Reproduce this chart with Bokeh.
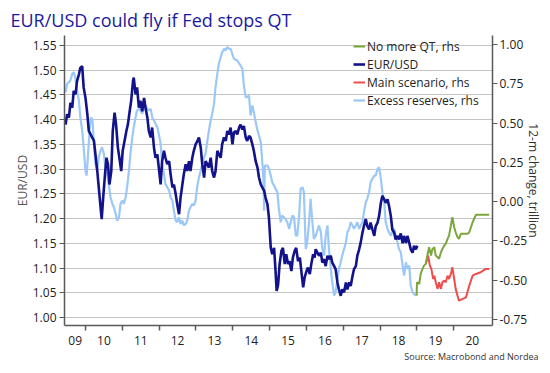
from bokeh.plotting import figure
from bokeh.models import (Range1d, LinearAxis, FixedTicker, NumeralTickFormatter,
                          CustomJSTickFormatter, Title, Legend, LegendItem)
from bokeh.embed import file_html
from bokeh.resources import INLINE

FONT = "Open Sans"

# ---------------- data ----------------
eurusd_t = [2009.46, 2009.50, 2009.55, 2009.59, 2009.64, 2009.68, 2009.73, 2009.77, 2009.82, 2009.86,
            2009.91, 2009.95, 2010.00, 2010.05, 2010.09, 2010.14, 2010.18, 2010.23, 2010.27, 2010.32,
            2010.36, 2010.41, 2010.44, 2010.48, 2010.53, 2010.57, 2010.61, 2010.65, 2010.70, 2010.74,
            2010.79, 2010.83, 2010.88, 2010.92, 2010.97, 2011.01, 2011.06, 2011.11, 2011.15, 2011.20,
            2011.24, 2011.29, 2011.31, 2011.36, 2011.40, 2011.45, 2011.49, 2011.54, 2011.59, 2011.63,
            2011.68, 2011.72, 2011.77, 2011.81, 2011.86, 2011.90, 2011.95, 2011.99, 2012.04, 2012.08,
            2012.13, 2012.17, 2012.22, 2012.27, 2012.31, 2012.36, 2012.40, 2012.45, 2012.49, 2012.54,
            2012.58, 2012.63, 2012.67, 2012.72, 2012.76, 2012.81, 2012.85, 2012.90, 2012.94, 2012.99,
            2013.04, 2013.08, 2013.13, 2013.17, 2013.22, 2013.26, 2013.31, 2013.35, 2013.40, 2013.44,
            2013.49, 2013.53, 2013.58, 2013.62, 2013.67, 2013.71, 2013.76, 2013.81, 2013.85, 2013.90,
            2013.94, 2013.99, 2014.03, 2014.08, 2014.12, 2014.17, 2014.21, 2014.26, 2014.30, 2014.35,
            2014.39, 2014.44, 2014.48, 2014.53, 2014.57, 2014.62, 2014.67, 2014.71, 2014.76, 2014.80,
            2014.85, 2014.89, 2014.94, 2014.98, 2015.03, 2015.07, 2015.12, 2015.16, 2015.19, 2015.23,
            2015.27, 2015.32, 2015.36, 2015.41, 2015.45, 2015.50, 2015.54, 2015.59, 2015.63, 2015.68,
            2015.72, 2015.77, 2015.82, 2015.86, 2015.91, 2015.95, 2016.00, 2016.04, 2016.09, 2016.13,
            2016.18, 2016.22, 2016.25, 2016.34, 2016.39, 2016.43, 2016.48, 2016.52, 2016.57, 2016.61,
            2016.66, 2016.70, 2016.75, 2016.79, 2016.84, 2016.88, 2016.93, 2016.97, 2017.02, 2017.07,
            2017.11, 2017.16, 2017.20, 2017.25, 2017.29, 2017.34, 2017.38, 2017.43, 2017.47, 2017.52,
            2017.56, 2017.61, 2017.65, 2017.70, 2017.74, 2017.79, 2017.84, 2017.88, 2017.93, 2017.97,
            2018.02, 2018.06, 2018.11, 2018.15, 2018.20, 2018.24, 2018.29, 2018.33, 2018.38, 2018.42,
            2018.47, 2018.51, 2018.56, 2018.61, 2018.65, 2018.70, 2018.74, 2018.79, 2018.83, 2018.88,
            2018.92, 2018.97, 2019.01]
eurusd = [1.390, 1.411, 1.404, 1.434, 1.424, 1.458, 1.451, 1.478, 1.491, 1.505,
          1.508, 1.465, 1.444, 1.411, 1.377, 1.370, 1.364, 1.357, 1.330, 1.296,
          1.263, 1.222, 1.199, 1.242, 1.290, 1.323, 1.310, 1.269, 1.296, 1.377,
          1.414, 1.390, 1.343, 1.323, 1.296, 1.337, 1.357, 1.377, 1.390, 1.417,
          1.438, 1.478, 1.485, 1.451, 1.465, 1.424, 1.438, 1.417, 1.444, 1.424,
          1.404, 1.377, 1.364, 1.384, 1.343, 1.323, 1.330, 1.303, 1.269, 1.316,
          1.337, 1.323, 1.310, 1.316, 1.290, 1.263, 1.269, 1.249, 1.229, 1.209,
          1.242, 1.269, 1.290, 1.310, 1.296, 1.316, 1.296, 1.323, 1.337, 1.350,
          1.357, 1.364, 1.343, 1.310, 1.283, 1.316, 1.310, 1.303, 1.323, 1.296,
          1.283, 1.296, 1.337, 1.330, 1.323, 1.350, 1.364, 1.357, 1.377, 1.370,
          1.384, 1.350, 1.374, 1.377, 1.370, 1.384, 1.390, 1.380, 1.387, 1.364,
          1.357, 1.367, 1.364, 1.350, 1.337, 1.316, 1.303, 1.283, 1.269, 1.263,
          1.256, 1.242, 1.229, 1.202, 1.141, 1.128, 1.141, 1.094, 1.054, 1.067,
          1.108, 1.135, 1.141, 1.108, 1.128, 1.108, 1.114, 1.094, 1.121, 1.135,
          1.141, 1.114, 1.121, 1.094, 1.061, 1.081, 1.094, 1.101, 1.088, 1.108,
          1.128, 1.121, 1.138, 1.125, 1.131, 1.111, 1.118, 1.104, 1.125, 1.118,
          1.125, 1.111, 1.104, 1.098, 1.071, 1.057, 1.044, 1.057, 1.051, 1.071,
          1.057, 1.071, 1.064, 1.084, 1.098, 1.104, 1.125, 1.138, 1.151, 1.172,
          1.185, 1.199, 1.185, 1.178, 1.192, 1.178, 1.165, 1.185, 1.192, 1.205,
          1.232, 1.246, 1.239, 1.232, 1.239, 1.226, 1.205, 1.178, 1.172, 1.158,
          1.165, 1.158, 1.170, 1.150, 1.165, 1.151, 1.165, 1.151, 1.138, 1.131,
          1.145, 1.138, 1.145]

reserves_t = [2009.46, 2009.50, 2009.55, 2009.59, 2009.64, 2009.68, 2009.73, 2009.77, 2009.82, 2009.86,
              2009.91, 2009.95, 2010.00, 2010.03, 2010.06, 2010.11, 2010.15, 2010.19, 2010.23, 2010.27,
              2010.32, 2010.36, 2010.41, 2010.45, 2010.50, 2010.54, 2010.59, 2010.63, 2010.68, 2010.73,
              2010.77, 2010.82, 2010.86, 2010.91, 2010.95, 2011.00, 2011.04, 2011.09, 2011.13, 2011.18,
              2011.22, 2011.27, 2011.31, 2011.36, 2011.40, 2011.45, 2011.49, 2011.54, 2011.59, 2011.63,
              2011.68, 2011.72, 2011.77, 2011.81, 2011.86, 2011.90, 2011.95, 2011.99, 2012.04, 2012.08,
              2012.13, 2012.17, 2012.22, 2012.27, 2012.31, 2012.36, 2012.40, 2012.45, 2012.49, 2012.54,
              2012.58, 2012.63, 2012.67, 2012.72, 2012.76, 2012.81, 2012.85, 2012.90, 2012.94, 2012.99,
              2013.03, 2013.08, 2013.13, 2013.17, 2013.22, 2013.26, 2013.31, 2013.35, 2013.40, 2013.44,
              2013.49, 2013.53, 2013.58, 2013.62, 2013.67, 2013.71, 2013.76, 2013.80, 2013.85, 2013.90,
              2013.94, 2014.03, 2014.12, 2014.21, 2014.26, 2014.30, 2014.35, 2014.39, 2014.44, 2014.48,
              2014.53, 2014.57, 2014.62, 2014.66, 2014.71, 2014.76, 2014.80, 2014.83, 2014.85, 2014.87,
              2014.94, 2014.98, 2015.03, 2015.07, 2015.12, 2015.16, 2015.21, 2015.25, 2015.30, 2015.34,
              2015.39, 2015.43, 2015.48, 2015.53, 2015.57, 2015.62, 2015.66, 2015.71, 2015.75, 2015.80,
              2015.84, 2015.89, 2015.93, 2015.98, 2016.02, 2016.07, 2016.11, 2016.16, 2016.20, 2016.25,
              2016.34, 2016.39, 2016.43, 2016.48, 2016.52, 2016.57, 2016.61, 2016.66, 2016.70, 2016.75,
              2016.79, 2016.84, 2016.88, 2016.93, 2016.97, 2017.02, 2017.07, 2017.11, 2017.16, 2017.20,
              2017.25, 2017.29, 2017.34, 2017.38, 2017.43, 2017.47, 2017.52, 2017.56, 2017.61, 2017.65,
              2017.70, 2017.74, 2017.79, 2017.84, 2017.88, 2017.93, 2017.97, 2018.02, 2018.06, 2018.11,
              2018.15, 2018.20, 2018.24, 2018.29, 2018.33, 2018.38, 2018.42, 2018.47, 2018.51, 2018.56,
              2018.61, 2018.65, 2018.70, 2018.74, 2018.79, 2018.83, 2018.88, 2018.92, 2018.97]
reserves = [0.697, 0.750, 0.760, 0.771, 0.813, 0.824, 0.781, 0.707, 0.644, 0.537,
            0.452, 0.346, 0.198, 0.166, 0.262, 0.452, 0.537, 0.516, 0.368, 0.240,
            0.198, 0.283, 0.325, 0.346, 0.304, 0.219, 0.177, 0.113, 0.028, -0.014,
            -0.036, -0.078, -0.121, -0.099, -0.014, 0.007, -0.014, 0.028, 0.092, 0.198,
            0.304, 0.410, 0.474, 0.537, 0.580, 0.590, 0.580, 0.559, 0.601, 0.612,
            0.590, 0.580, 0.590, 0.537, 0.516, 0.495, 0.474, 0.431, 0.368, 0.240,
            0.177, 0.113, 0.092, 0.071, 0.028, 0.007, -0.057, -0.121, -0.131, -0.099,
            -0.142, -0.121, -0.152, -0.142, -0.121, -0.057, -0.036, -0.014, -0.025, 0.007,
            0.092, 0.155, 0.198, 0.240, 0.283, 0.304, 0.389, 0.452, 0.516, 0.559,
            0.622, 0.728, 0.813, 0.877, 0.919, 0.951, 0.972, 0.962, 0.983, 0.972,
            0.972, 0.909, 0.898, 0.866, 0.845, 0.739, 0.665, 0.665, 0.675, 0.548,
            0.612, 0.569, 0.506, 0.463, 0.421, 0.378, 0.251, 0.145, -0.057, 0.230,
            0.230, 0.209, 0.166, 0.124, 0.102, 0.081, 0.060, -0.046, -0.131, -0.088,
            -0.099, -0.110, -0.131, -0.173, -0.131, -0.088, -0.099, -0.216, -0.216, -0.088,
            0.081, 0.092, 0.060, -0.301, -0.258, -0.131, 0.018, -0.131, -0.237, -0.216,
            -0.152, -0.195, -0.301, -0.343, -0.216, -0.152, -0.301, -0.428, -0.513, -0.598,
            -0.577, -0.492, -0.428, -0.386, -0.343, -0.301, -0.258, -0.195, -0.173, -0.131,
            -0.152, -0.173, -0.152, -0.131, -0.173, -0.152, -0.131, -0.067, -0.004, 0.018,
            0.060, 0.124, 0.145, 0.166, 0.166, 0.209, 0.219, 0.145, 0.060, -0.004,
            -0.131, -0.173, -0.195, -0.216, -0.195, -0.173, -0.216, -0.258, -0.301, -0.322,
            -0.407, -0.471, -0.386, -0.428, -0.407, -0.534, -0.577, -0.587, -0.598]

noqt_t = [2018.99, 2019.00, 2019.06, 2019.10, 2019.15, 2019.19, 2019.24, 2019.28, 2019.33, 2019.38,
          2019.42, 2019.47, 2019.51, 2019.56, 2019.60, 2019.65, 2019.69, 2019.74, 2019.78, 2019.83,
          2019.87, 2019.92, 2019.96, 2020.01, 2020.05, 2020.10, 2020.14, 2020.19, 2020.28, 2020.37,
          2020.42, 2020.51, 2020.60, 2020.78, 2020.96]
noqt = [-0.598, -0.513, -0.524, -0.460, -0.428, -0.407, -0.396, -0.343, -0.290, -0.343,
        -0.301, -0.290, -0.343, -0.354, -0.364, -0.322, -0.301, -0.279, -0.269, -0.237,
        -0.216, -0.152, -0.099, -0.163, -0.195, -0.226, -0.237, -0.205, -0.205, -0.205,
        -0.195, -0.131, -0.084, -0.084, -0.084]

main_t = [2019.24, 2019.30, 2019.35, 2019.39, 2019.44, 2019.47, 2019.51, 2019.56, 2019.60, 2019.65,
          2019.69, 2019.74, 2019.78, 2019.83, 2019.87, 2019.92, 2019.96, 2020.01, 2020.05, 2020.10,
          2020.14, 2020.24, 2020.33, 2020.42, 2020.51, 2020.60, 2020.73, 2020.87, 2020.96]
main = [-0.396, -0.343, -0.407, -0.428, -0.492, -0.471, -0.513, -0.555, -0.513, -0.555,
        -0.513, -0.502, -0.513, -0.471, -0.492, -0.460, -0.417, -0.492, -0.555, -0.598,
        -0.630, -0.619, -0.609, -0.534, -0.471, -0.460, -0.449, -0.428, -0.428]

left_ticks = [1.00, 1.05, 1.10, 1.15, 1.20, 1.25, 1.30, 1.35, 1.40, 1.45, 1.50, 1.55]
right_ticks = [-0.75, -0.50, -0.25, 0.00, 0.25, 0.50, 0.75, 1.00]
year_bounds = [2010, 2011, 2012, 2013, 2014, 2015, 2016, 2017, 2018, 2019, 2020]
year_label_pos = [2009.72, 2010.5, 2011.5, 2012.5, 2013.5, 2014.5, 2015.5, 2016.5, 2017.5,
                  2018.5, 2019.5, 2020.5]
year_labels = ["09", "10", "11", "12", "13", "14", "15", "16", "17", "18", "19", "20"]

# ---------------- colours ----------------
C_EUR = "#12128A"
C_RES = "#9CC8F7"
C_NOQT = "#7BA63C"
C_MAIN = "#F04E4E"
C_AXIS = "#5A5A5A"
C_GRID = "#C4C4C4"
C_TEXT = "#222222"

p = figure(width=550, height=373, output_backend="svg", toolbar_location=None,
           x_range=Range1d(2009.43, 2021.05), y_range=Range1d(0.984, 1.570),
           min_border_left=64, min_border_right=58, min_border_top=35, min_border_bottom=48,
           background_fill_color="white", border_fill_color="white")
p.outline_line_color = None
p.extra_y_ranges = {"rhs": Range1d(-0.788, 1.057)}

# title
p.title.text = "EUR/USD could fly if Fed stops QT"
p.title.text_font = FONT
p.title.text_font_size = "18px"
p.title.text_font_style = "normal"
p.title.text_color = "#1A1A9E"
p.title.align = "left"
p.title.offset = -54
p.title.standoff = 8

# grids
p.xgrid.visible = False
p.ygrid.grid_line_color = C_GRID
p.ygrid.grid_line_width = 1

# left axis
ya = p.yaxis[0]
ya.ticker = FixedTicker(ticks=left_ticks)
ya.formatter = NumeralTickFormatter(format="0.00")
ya.axis_label = "EUR/USD"
ya.axis_label_text_font = FONT
ya.axis_label_text_font_size = "12px"
ya.axis_label_text_font_style = "normal"
ya.axis_label_text_color = "#555555"
ya.axis_label_standoff = -1
ya.major_label_text_font = FONT
ya.major_label_text_font_size = "12px"
ya.major_label_text_color = C_TEXT
ya.major_label_standoff = 3
ya.major_tick_out = 5
ya.major_tick_in = 0
ya.minor_tick_out = 0
ya.minor_tick_in = 0
ya.axis_line_color = C_AXIS
ya.axis_line_width = 1.5
ya.major_tick_line_color = C_AXIS

# right axis
ra = LinearAxis(y_range_name="rhs", ticker=FixedTicker(ticks=right_ticks),
                formatter=NumeralTickFormatter(format="0.00"))
ra.axis_label = "12-m change, trillion"
ra.axis_label_text_font = FONT
ra.axis_label_text_font_size = "12px"
ra.axis_label_text_font_style = "normal"
ra.axis_label_text_color = "#333333"
ra.axis_label_standoff = -5
ra.major_label_text_font = FONT
ra.major_label_text_font_size = "12px"
ra.major_label_text_color = C_TEXT
ra.major_label_standoff = 2
ra.major_tick_out = 5
ra.major_tick_in = 0
ra.minor_tick_out = 0
ra.minor_tick_in = 0
ra.axis_line_color = C_AXIS
ra.axis_line_width = 1.5
ra.major_tick_line_color = C_AXIS
p.add_layout(ra, "right")

# x axis
xa = p.xaxis[0]
xa.ticker = FixedTicker(ticks=year_label_pos, minor_ticks=year_bounds)
xa.formatter = CustomJSTickFormatter(args=dict(labels=year_labels), code="return labels[index];")
xa.major_tick_out = 0
xa.major_tick_in = 0
xa.minor_tick_out = 5
xa.minor_tick_in = 0
xa.minor_tick_line_color = C_AXIS
xa.minor_tick_line_width = 1.5
xa.axis_line_color = C_AXIS
xa.axis_line_width = 1.5
xa.major_label_text_font = FONT
xa.major_label_text_font_size = "12px"
xa.major_label_text_color = C_TEXT
xa.major_label_standoff = 5

# lines
r_res = p.line(reserves_t, reserves, line_color=C_RES, line_width=2.2, y_range_name="rhs")
r_main = p.line(main_t, main, line_color=C_MAIN, line_width=2, y_range_name="rhs")
r_noqt = p.line(noqt_t, noqt, line_color=C_NOQT, line_width=2, y_range_name="rhs")
r_eur = p.line(eurusd_t, eurusd, line_color=C_EUR, line_width=2.6)

legend = Legend(items=[
    LegendItem(label="No more QT, rhs", renderers=[r_noqt]),
    LegendItem(label="EUR/USD", renderers=[r_eur]),
    LegendItem(label="Main scenario, rhs", renderers=[r_main]),
    LegendItem(label="Excess reserves, rhs", renderers=[r_res]),
], location=(289, 216))
legend.border_line_color = None
legend.background_fill_alpha = 0
legend.padding = 0
legend.margin = 0
legend.spacing = 0
legend.label_height = 18
legend.glyph_height = 18
legend.glyph_width = 12
legend.label_standoff = 2
legend.label_text_font = FONT
legend.label_text_font_size = "12px"
legend.label_text_color = C_TEXT
p.add_layout(legend, "center")

src = Title(text="Source: Macrobond and Nordea", align="right", offset=-46, standoff=1,
            text_font=FONT, text_font_size="9px", text_font_style="normal", text_color="#333333")
p.add_layout(src, "below")

open("out.html", "w").write(file_html(p, INLINE))
